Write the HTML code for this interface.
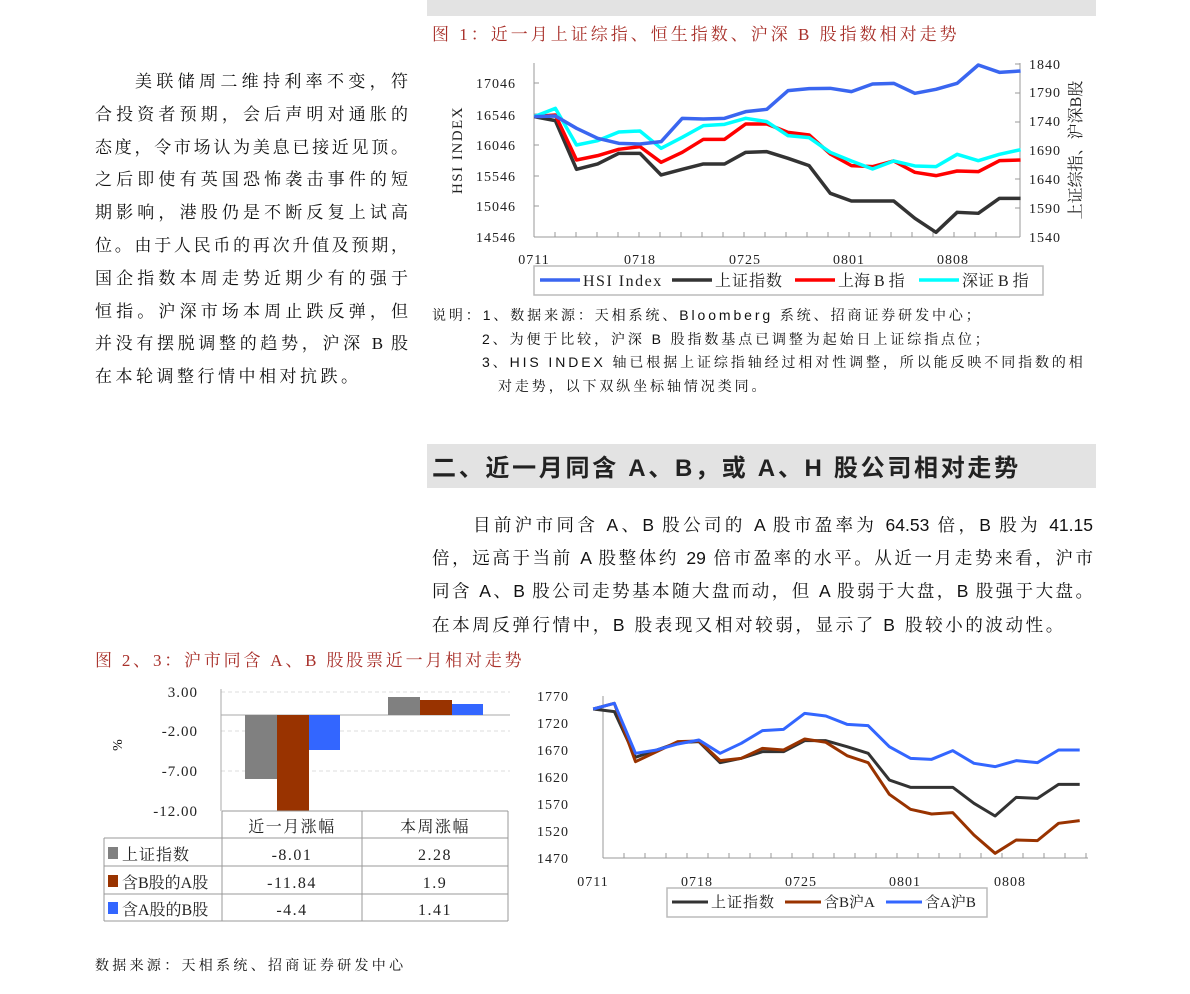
<!DOCTYPE html>
<html><head><meta charset="utf-8"><style>
body{margin:0;width:1190px;height:994px;background:#fff;position:relative;overflow:hidden;font-family:"Liberation Serif","Noto Serif CJK SC",serif;color:#111}
.a{position:absolute;white-space:nowrap}
</style></head><body>
<div class="a" style="left:427px;top:0;width:669px;height:16px;background:#e3e3e3"></div>
<div class="a" style="left:427px;top:444px;width:669px;height:44px;background:#e3e3e3"></div>
<div class="a" style="left:432px;top:448px;font:bold 24px 'Liberation Sans','Noto Sans CJK SC',sans-serif;color:#222;letter-spacing:2.7px">二、近一月同含 A、B，或 A、H 股公司相对走势</div>
<div class="a" style="left:432px;top:20px;font-size:17px;color:#a8302a;letter-spacing:3px">图 1：近一月上证综指、恒生指数、沪深 B 股指数相对走势</div>
<div class="a" style="left:95px;top:646px;font-size:17px;color:#a8302a;letter-spacing:2.8px">图 2、3：沪市同含 A、B 股股票近一月相对走势</div>

<div style="position:absolute;left:95px;top:66px;width:313px;font-size:17px;line-height:32.8px">
<div style="text-align-last:justify;padding-left:40px">美联储周二维持利率不变，符</div>
<div style="text-align-last:justify">合投资者预期，会后声明对通胀的</div>
<div style="text-align-last:justify">态度，令市场认为美息已接近见顶。</div>
<div style="text-align-last:justify">之后即使有英国恐怖袭击事件的短</div>
<div style="text-align-last:justify">期影响，港股仍是不断反复上试高</div>
<div style="text-align-last:justify">位。由于人民币的再次升值及预期，</div>
<div style="text-align-last:justify">国企指数本周走势近期少有的强于</div>
<div style="text-align-last:justify">恒指。沪深市场本周止跌反弹，但</div>
<div style="text-align-last:justify">并没有摆脱调整的趋势，沪深 B 股</div>
<div style="letter-spacing:3.5px">在本轮调整行情中相对抗跌。</div>
</div>

<div style="position:absolute;left:432px;top:509px;width:661px;font-size:17.5px;line-height:33.2px;font-family:'Liberation Sans','Noto Serif CJK SC',serif">
<div style="text-align-last:justify;padding-left:41px">目前沪市同含 A、B 股公司的 A 股市盈率为 64.53 倍，B 股为 41.15</div>
<div style="text-align-last:justify">倍，远高于当前 A 股整体约 29 倍市盈率的水平。从近一月走势来看，沪市</div>
<div style="text-align-last:justify">同含 A、B 股公司走势基本随大盘而动，但 A 股弱于大盘，B 股强于大盘。</div>
<div style="letter-spacing:2.6px">在本周反弹行情中，B 股表现又相对较弱，显示了 B 股较小的波动性。</div>
</div>

<div style="position:absolute;left:432px;top:304px;font-size:14px;line-height:23.5px;font-family:'Liberation Sans','Noto Serif CJK SC',serif;letter-spacing:2.9px">
<div>说明：1、数据来源：天相系统、Bloomberg 系统、招商证券研发中心；</div>
<div style="padding-left:50px">2、为便于比较，沪深 B 股指数基点已调整为起始日上证综指点位；</div>
<div style="padding-left:50px">3、HIS INDEX 轴已根据上证综指轴经过相对性调整，所以能反映不同指数的相</div>
<div style="padding-left:66px">对走势，以下双纵坐标轴情况类同。</div>
</div>
<div class="a" style="left:95px;top:955px;font-size:14px;letter-spacing:3.3px">数据来源：天相系统、招商证券研发中心</div>

<svg class="a" style="left:0;top:0" width="1190" height="994" font-family="Liberation Serif,Noto Serif CJK SC,serif">
<g stroke="#999" stroke-width="1">
<line x1="534" y1="63" x2="534" y2="237"/><line x1="1020" y1="63" x2="1020" y2="237"/>
<line x1="534" y1="237" x2="1020" y2="237"/>
<path d="M555 237v-5M576 237v-5M597 237v-5M618 237v-5M639 237v-5M660 237v-5M681 237v-5M702 237v-5M723 237v-5M744 237v-5M765 237v-5M786 237v-5M807 237v-5M828 237v-5M849 237v-5M870 237v-5M891 237v-5M912 237v-5M933 237v-5M954 237v-5M975 237v-5M996 237v-5M1020 64h-5M1020 93h-5M1020 122h-5M1020 150h-5M1020 179h-5M1020 208h-5M534 83h5M534 114h5M534 145h5M534 176h5M534 206h5"/>
</g>
<g font-size="14" fill="#222" text-anchor="end" letter-spacing="1">
<text x="516" y="88">17046</text><text x="516" y="120">16546</text><text x="516" y="150">16046</text>
<text x="516" y="181">15546</text><text x="516" y="211">15046</text><text x="516" y="242">14546</text>
</g>
<g font-size="14" fill="#222" letter-spacing="1">
<text x="1029" y="69">1840</text><text x="1029" y="97">1790</text><text x="1029" y="126">1740</text>
<text x="1029" y="155">1690</text><text x="1029" y="184">1640</text><text x="1029" y="213">1590</text><text x="1029" y="242">1540</text>
</g>
<g font-size="14" fill="#222" text-anchor="middle" letter-spacing="1">
<text x="534" y="264">0711</text><text x="640" y="264">0718</text><text x="745" y="264">0725</text><text x="849" y="264">0801</text><text x="953" y="264">0808</text>
</g>
<text transform="translate(462,150) rotate(-90)" font-size="15" text-anchor="middle" fill="#222" letter-spacing="1.5">HSI  INDEX</text>
<text transform="translate(1081,150) rotate(-90)" font-size="16" text-anchor="middle" fill="#222">上证综指、沪深B股</text>
<g transform="translate(420,0) scale(0.436,0.3333)" fill="none" stroke-width="3.5" stroke-linejoin="round">
<polyline vector-effect="non-scaling-stroke" stroke="#333" points="262,350 310.5,362 359,508 407.5,492 456,460 504.5,460 553,525 601.5,508 650,492 698.5,492 747,457 795.5,455 844,475 892.5,497 941,580 989.5,603 1038,603 1086.5,603 1135,655 1183.5,697 1232,637 1280.5,640 1329,595 1377.5,595"/>
<polyline vector-effect="non-scaling-stroke" stroke="#f00" points="262,350 310.5,345 359,480 407.5,467 456,448 504.5,440 553,487 601.5,457 650,418 698.5,418 747,372 795.5,372 844,397 892.5,405 941,462 989.5,497 1038,500 1086.5,483 1135,517 1183.5,527 1232,513 1280.5,515 1329,482 1377.5,480"/>
<polyline vector-effect="non-scaling-stroke" stroke="#0ff" points="262,350 310.5,325 359,435 407.5,422 456,396 504.5,393 553,445 601.5,412 650,377 698.5,373 747,355 795.5,365 844,407 892.5,413 941,457 989.5,483 1038,507 1086.5,483 1135,498 1183.5,500 1232,463 1280.5,482 1329,463 1377.5,449"/>
<polyline vector-effect="non-scaling-stroke" stroke="#3a66f0" points="262,350 310.5,348 359,385 407.5,415 456,430 504.5,432 553,425 601.5,355 650,357 698.5,355 747,335 795.5,328 844,272 892.5,266 941,265 989.5,275 1038,252 1086.5,250 1135,280 1183.5,268 1232,250 1280.5,195 1329,217 1377.5,213"/>
</g>
<rect x="534" y="266" width="509" height="29" fill="#fff" stroke="#bbb" stroke-width="1.5"/>
<g stroke-width="3.5"><line x1="540" y1="280" x2="580" y2="280" stroke="#3a66f0"/><line x1="672" y1="280" x2="712" y2="280" stroke="#333"/><line x1="795" y1="280" x2="835" y2="280" stroke="#f00"/><line x1="919" y1="280" x2="959" y2="280" stroke="#0ff"/></g>
<g font-size="16" fill="#222"><text x="583" y="286" letter-spacing="1.5">HSI  Index</text><text x="715" y="286" letter-spacing="1">上证指数</text><text x="838" y="286">上海 B 指</text><text x="962" y="286">深证 B 指</text></g>

<g stroke="#ddd" stroke-dasharray="4,3"><line x1="221" y1="692" x2="510" y2="692"/><line x1="221" y1="731" x2="510" y2="731"/><line x1="221" y1="771" x2="510" y2="771"/></g>
<line x1="221" y1="689" x2="221" y2="811" stroke="#aaa"/>
<line x1="221" y1="715" x2="510" y2="715" stroke="#aaa"/>
<g font-size="15" fill="#222" text-anchor="end" letter-spacing="1"><text x="198" y="697">3.00</text><text x="198" y="736">-2.00</text><text x="198" y="776">-7.00</text><text x="198" y="816">-12.00</text></g>
<text transform="translate(122,745) rotate(-90)" font-size="14" text-anchor="middle">%</text>
<rect x="245" y="715" width="32" height="64" fill="#808080"/>
<rect x="277" y="715" width="32" height="96" fill="#993300"/>
<rect x="309" y="715" width="31" height="35" fill="#3366ff"/>
<rect x="388" y="697" width="32" height="18" fill="#808080"/>
<rect x="420" y="700" width="32" height="15" fill="#993300"/>
<rect x="452" y="704" width="31" height="11" fill="#3366ff"/>
<g stroke="#999" fill="none"><path d="M222 811V921M362 811V921M508 811V921M222 811H508M104 838H508M104 866H508M104 894H508M104 921H508M104 838V921"/></g>
<g font-size="16" fill="#222" text-anchor="middle" letter-spacing="1.5"><text x="292" y="832">近一月涨幅</text><text x="435" y="832">本周涨幅</text>
<text x="292" y="860">-8.01</text><text x="435" y="860">2.28</text><text x="292" y="888">-11.84</text><text x="435" y="888">1.9</text><text x="292" y="915">-4.4</text><text x="435" y="915">1.41</text></g>
<rect x="108" y="847" width="10" height="12" fill="#808080"/><rect x="108" y="875" width="10" height="12" fill="#993300"/><rect x="108" y="902" width="10" height="12" fill="#3366ff"/>
<g font-size="16" fill="#222"><text x="122" y="860" letter-spacing="1">上证指数</text><text x="122" y="888">含B股的A股</text><text x="122" y="915">含A股的B股</text></g>

<line x1="603" y1="696" x2="603" y2="858" stroke="#999"/>
<line x1="603" y1="858" x2="1088" y2="858" stroke="#999"/>
<g stroke="#999"><path d="M624 858v-5M645 858v-5M666 858v-5M687 858v-5M708 858v-5M729 858v-5M750 858v-5M771 858v-5M792 858v-5M813 858v-5M834 858v-5M855 858v-5M876 858v-5M897 858v-5M918 858v-5M939 858v-5M960 858v-5M981 858v-5M1002 858v-5M1023 858v-5M1044 858v-5M1065 858v-5M1086 858v-5"/></g>
<g font-size="14" fill="#222" text-anchor="end" letter-spacing="1"><text x="569" y="701">1770</text><text x="569" y="728">1720</text><text x="569" y="755">1670</text><text x="569" y="782">1620</text><text x="569" y="809">1570</text><text x="569" y="836">1520</text><text x="569" y="863">1470</text></g>
<g font-size="14" fill="#222" text-anchor="middle" letter-spacing="1"><text x="593" y="886">0711</text><text x="697" y="886">0718</text><text x="801" y="886">0725</text><text x="905" y="886">0801</text><text x="1010" y="886">0808</text></g>
<g transform="translate(90,670) scale(0.641,0.3333)" fill="none" stroke-width="3" stroke-linejoin="round">
<polyline vector-effect="non-scaling-stroke" stroke="#333" points="785,117 818,125 851,262 884,240 917,218 950,215 983,278 1016,265 1049,245 1082,245 1115,212 1148,212 1181,230 1214,250 1247,330 1280,352 1313,352 1346,352 1379,400 1412,438 1445,382 1478,385 1511,343 1544,343"/>
<polyline vector-effect="non-scaling-stroke" stroke="#993300" points="785,117 818,100 851,275 884,245 917,215 950,213 983,272 1016,265 1049,235 1082,240 1115,207 1148,217 1181,257 1214,278 1247,373 1280,418 1313,432 1346,428 1379,495 1412,550 1445,510 1478,512 1511,460 1544,452"/>
<polyline vector-effect="non-scaling-stroke" stroke="#3366ff" points="785,117 818,100 851,250 884,240 917,222 950,210 983,250 1016,220 1049,182 1082,178 1115,130 1148,138 1181,163 1214,167 1247,230 1280,265 1313,268 1346,242 1379,280 1412,290 1445,272 1478,278 1511,240 1544,240"/>
</g>
<rect x="667" y="888" width="320" height="29" fill="#fff" stroke="#bbb" stroke-width="1.5"/>
<g stroke-width="3"><line x1="672" y1="902" x2="708" y2="902" stroke="#333"/><line x1="785" y1="902" x2="821" y2="902" stroke="#993300"/><line x1="886" y1="902" x2="922" y2="902" stroke="#3366ff"/></g>
<g font-size="15" fill="#222"><text x="711" y="907" letter-spacing="1">上证指数</text><text x="824" y="907">含B沪A</text><text x="925" y="907">含A沪B</text></g>
</svg>
</body></html>
